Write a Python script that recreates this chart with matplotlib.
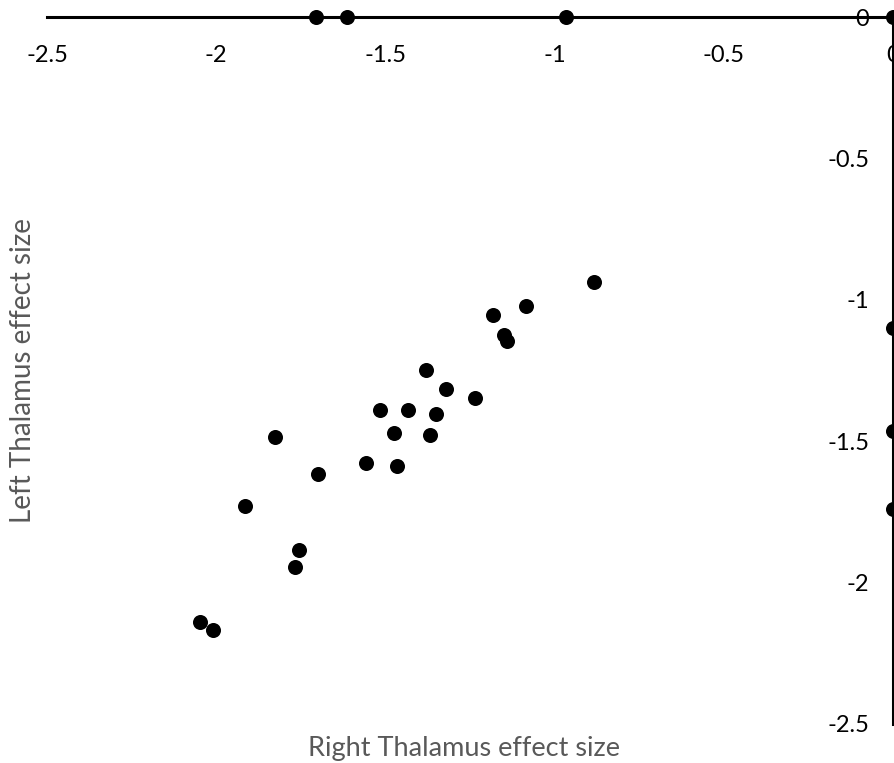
import matplotlib
matplotlib.use("Agg")
import matplotlib.pyplot as plt

plt.rcParams['font.family'] = ['Lato', 'DejaVu Sans']
plt.rcParams['axes.unicode_minus'] = False

# Data: (Right Thalamus effect size, Left Thalamus effect size)
right_thalamus = [-0.884, -1.085, -1.183, -1.151, -1.141, -1.381, -1.321, -1.236,
                  -1.517, -1.433, -1.350, -1.475, -1.369, -1.827, -1.558, -1.465,
                  -1.698, -1.914, -1.754, -1.767, -2.048, -2.009,
                  -1.706, -1.614, -0.967, 0.0,
                  0.0, 0.0, 0.0]
left_thalamus = [-0.937, -1.022, -1.054, -1.126, -1.146, -1.249, -1.317, -1.349,
                 -1.391, -1.391, -1.404, -1.472, -1.477, -1.486, -1.576, -1.587,
                 -1.617, -1.729, -1.885, -1.945, -2.139, -2.167,
                 0.0, 0.0, 0.0, 0.0,
                 -1.101, -1.464, -1.741]

x_ticks = [-2.5, -2, -1.5, -1, -0.5, 0]
x_tick_labels = ["-2.5", "-2", "-1.5", "-1", "-0.5", "0"]
y_ticks = [-2.5, -2, -1.5, -1, -0.5, 0]
y_tick_labels = ["-2.5", "-2", "-1.5", "-1", "-0.5", "0"]

x_label = "Right Thalamus effect size"
y_label = "Left Thalamus effect size"

fig = plt.figure(figsize=(8.95, 7.63), dpi=100)
ax = fig.add_axes([47 / 895, 39 / 763, 846 / 895, 707 / 763])

ax.set_xlim(-2.5, 0)
ax.set_ylim(-2.5, 0)

# Excel-style axes crossing at 0
ax.spines['left'].set_position(('data', 0))
ax.spines['bottom'].set_position(('data', 0))
ax.spines['right'].set_visible(False)
ax.spines['top'].set_visible(False)
for s in ('left', 'bottom'):
    ax.spines[s].set_linewidth(2.2)
    ax.spines[s].set_color('black')
    ax.spines[s].set_zorder(2)

ax.set_xticks(x_ticks)
ax.set_xticklabels(x_tick_labels)
ax.set_yticks(y_ticks)
ax.set_yticklabels(y_tick_labels)
ax.tick_params(axis='x', length=0, pad=20, labelsize=17, labelcolor='black')
ax.tick_params(axis='y', length=0, pad=17, labelsize=17, labelcolor='black')

ax.scatter(right_thalamus, left_thalamus, s=117, color='black', zorder=3,
           clip_on=False, linewidths=0)

ax.set_xlabel(x_label, fontsize=19.5, color='#595959')
ax.xaxis.set_label_coords(0.493, -0.017)
ax.set_ylabel(y_label, fontsize=20, color='#595959')
ax.yaxis.set_label_coords(-0.013, 0.5)

fig.savefig("out.png", dpi=100)
